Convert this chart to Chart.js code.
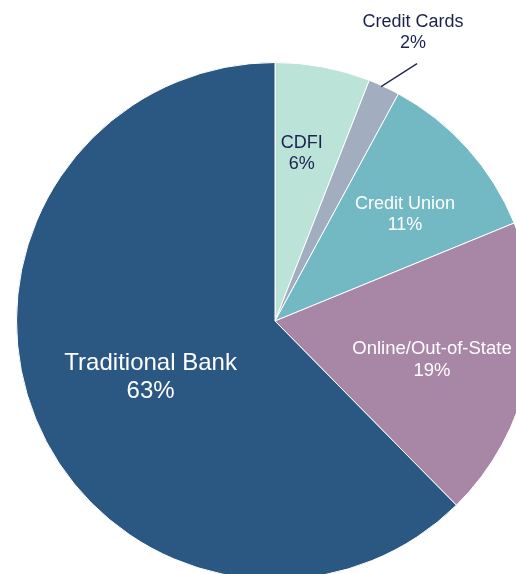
<!DOCTYPE html>
<html>
<head>
<meta charset="utf-8">
<script src="https://cdn.jsdelivr.net/npm/chart.js@4"></script>
<style>
  html, body { margin: 0; padding: 0; background: #fff; }
  body { width: 516px; height: 574px; overflow: hidden; position: relative; }
  #pie-chart { position: absolute; left: 0; top: 0; }
</style>
</head>
<body>
<canvas id="pie-chart" width="536" height="580"></canvas>
<script>
// shares by where people bank, clockwise from 12 o'clock
const categories = ["CDFI", "Credit Cards", "Credit Union", "Online/Out-of-State", "Traditional Bank"];
const shares = [6, 2, 11, 19, 63];
const sliceColors = ["#BCE3D8", "#A2AEBF", "#72B9C4", "#A886A6", "#2B5882"];

// label look per slice: radius fraction, text colour, font size, outside leader line
const labelStyles = [
  { r: 0.66, color: "#1C2150", size: 18, dx: -5 },
  { r: 1.0, color: "#1C2150", size: 18, outside: true },
  { r: 0.66, color: "#fff", size: 18, dx: 3, dy: 7 },
  { r: 0.62, color: "#fff", size: 18.5, dy: 7 },
  { r: 0.52, color: "#fff", size: 24, dy: 5 },
];

const sliceLabels = {
  id: "sliceLabels",
  afterDatasetsDraw(chart) {
    const ctx = chart.ctx;
    const arcs = chart.getDatasetMeta(0).data;
    ctx.save();
    ctx.textAlign = "center";
    ctx.textBaseline = "middle";
    arcs.forEach((arc, i) => {
      const st = labelStyles[i];
      const mid = (arc.startAngle + arc.endAngle) / 2;
      const cos = Math.cos(mid), sin = Math.sin(mid);
      const lines = [categories[i], shares[i] + "%"];
      const lh = st.size * 1.17;
      ctx.font = st.size + "px 'Liberation Sans', Arial, sans-serif";
      ctx.fillStyle = st.color;
      let x, y;
      if (st.outside) {
        // short leader from the rim up to the text
        const x0 = arc.x + cos * arc.outerRadius - 3;
        const y0 = arc.y + sin * arc.outerRadius;
        const x1 = x0 + 36;
        const y1 = y0 - 23;
        ctx.strokeStyle = st.color;
        ctx.lineWidth = 1.2;
        ctx.beginPath();
        ctx.moveTo(x0, y0);
        ctx.lineTo(x1, y1);
        ctx.stroke();
        x = x1 - 4;
        y = y1 - 31;
      } else {
        x = arc.x + cos * arc.outerRadius * st.r + (st.dx || 0);
        y = arc.y + sin * arc.outerRadius * st.r + (st.dy || 0);
      }
      const top = y - (lines.length - 1) * lh / 2;
      lines.forEach((t, k) => ctx.fillText(t, x, top + k * lh));
    });
    ctx.restore();
  },
};

const pieChart = new Chart(document.querySelector("#pie-chart").getContext("2d"), {
  type: "pie",
  data: {
    labels: categories,
    datasets: [
      {
        data: shares,
        backgroundColor: sliceColors,
        borderColor: "#fff",
        borderWidth: 1,
      },
    ],
  },
  options: {
    responsive: false,
    animation: false,
    // square chart area of 518px centred at (275, 321); the rest spills past the window
    layout: { padding: { left: 16, top: 62, right: 2, bottom: 0 } },
    plugins: {
      legend: { display: false },
      tooltip: { enabled: false },
    },
  },
  plugins: [sliceLabels],
});
</script>
</body>
</html>
